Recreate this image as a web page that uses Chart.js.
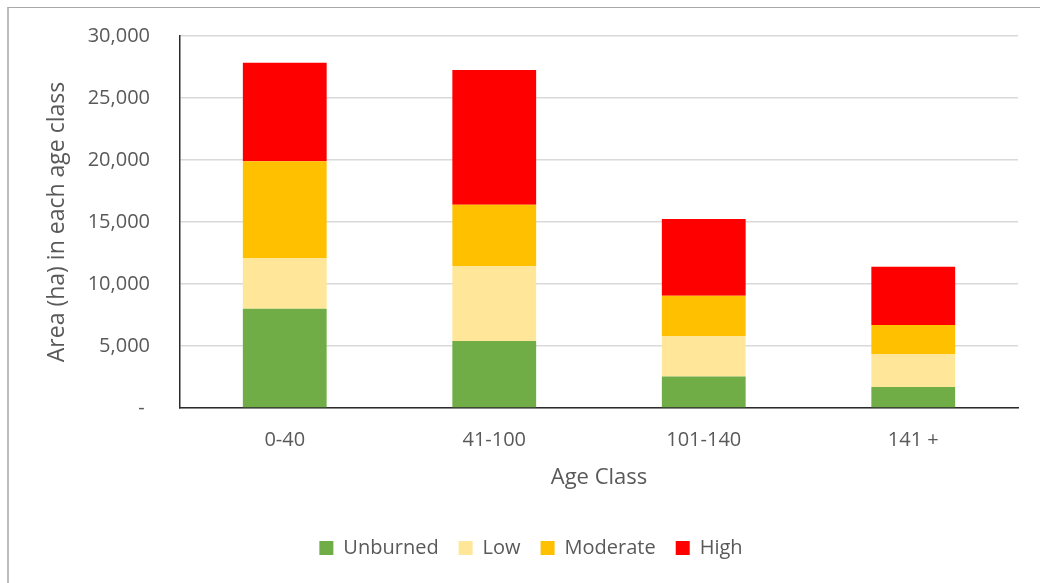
<!DOCTYPE html>
<html>
<head>
<meta charset="utf-8">
<script src="https://cdn.jsdelivr.net/npm/chart.js@4/dist/chart.umd.min.js"></script>
<style>
  html, body { margin: 0; padding: 0; background: #fff; overflow: hidden; }
  #wrap { position: relative; width: 1040px; height: 583px; }
  #frame {
    position: absolute; left: 7px; top: 7px; width: 1100px; height: 700px;
    border-left: 2px solid #bcbcbc; border-top: 1px solid #a8a8a8;
    pointer-events: none;
  }
  canvas { position: absolute; left: 0; top: 0; }
</style>
</head>
<body>
<div id="wrap">
  <div id="frame"></div>
  <canvas id="chart" width="1040" height="583"></canvas>
</div>
<script>
// Area burned by severity within each forest age class (ha)
const ageClasses = ['0-40', '41-100', '101-140', '141 +'];
const unburned = [8000, 5400, 2550, 1700];
const low      = [4100, 6050, 3250, 2650];
const moderate = [7800, 4950, 3250, 2350];
const high     = [7950, 10850, 6200, 4700];
const yTicks   = [0, 5000, 10000, 15000, 20000, 25000, 30000];

const seriesNames  = ['Unburned', 'Low', 'Moderate', 'High'];
const seriesColors = ['#70AD47', '#FFE699', '#FFC000', '#FF0000'];
const seriesValues = [unburned, low, moderate, high];

Chart.defaults.font.family = "'Open Sans', sans-serif";
Chart.defaults.color = '#595959';

new Chart(document.getElementById('chart'), {
  type: 'bar',
  data: {
    labels: ageClasses,
    datasets: seriesNames.map((name, i) => ({
      label: name,
      data: seriesValues[i],
      backgroundColor: seriesColors[i],
      borderWidth: 0,
      barPercentage: 0.4,
      categoryPercentage: 1.0
    }))
  },
  options: {
    responsive: false,
    animation: false,
    layout: { padding: { left: 22, right: 0, top: 36, bottom: 15 } },
    plugins: {
      tooltip: { enabled: false },
      legend: {
        position: 'bottom',
        labels: {
          boxWidth: 14,
          boxHeight: 14,
          padding: 20,
          font: { size: 20 },
          color: '#595959'
        }
      }
    },
    scales: {
      x: {
        stacked: true,
        grid: { display: false, drawTicks: false },
        border: { display: true, color: '#2b2b2b', width: 1.5 },
        ticks: { padding: 20, font: { size: 20 }, color: '#595959' },
        title: {
          display: true,
          text: 'Age Class',
          font: { size: 22 },
          color: '#595959',
          padding: { top: 0, bottom: 27 }
        },
        afterFit(s) { s.height = 110; }
      },
      y: {
        stacked: true,
        min: 0,
        max: 30000,
        afterBuildTicks(s) { s.ticks = yTicks.map(v => ({ value: v })); },
        grid: { color: '#d9d9d9', lineWidth: 1.5, drawTicks: false },
        border: { display: true, color: '#2b2b2b', width: 1.5 },
        ticks: {
          padding: 30,
          font: { size: 20 },
          color: '#595959',
          callback: v => v === 0 ? '- ' : v.toLocaleString('en-US')
        },
        title: {
          display: true,
          text: 'Area (ha) in each age class',
          font: { size: 23 },
          color: '#595959',
          padding: { top: 22, bottom: 0 }
        },
        afterFit(s) {
          s.width = 158;
          // plot area edges are set by layout padding, not label overhang
          s.paddingTop = 0;
          s.paddingBottom = 0;
        }
      },
      yRight: {
        type: 'linear',
        position: 'right',
        display: true,
        grid: { display: false, drawTicks: false },
        border: { display: false },
        ticks: { display: false },
        afterFit(s) { s.width = 22; s.paddingTop = 0; s.paddingBottom = 0; }
      }
    }
  }
});
</script>
</body>
</html>
